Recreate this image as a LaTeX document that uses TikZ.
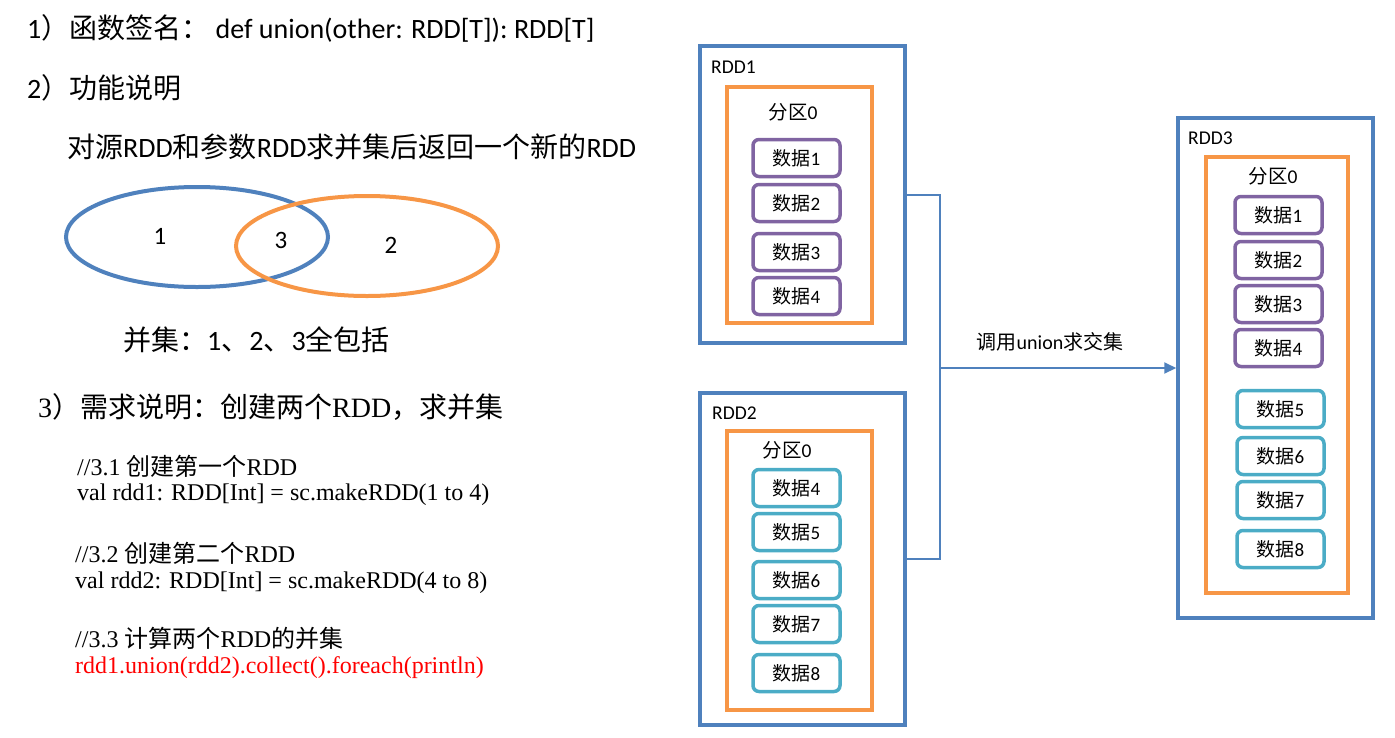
\documentclass[tikz,border=0pt]{standalone}
\usepackage{fontspec}
\setmainfont{Carlito}
\newfontfamily\cjk{Noto Sans CJK SC}
\newfontfamily\tms{Liberation Serif}
\newcommand{\zh}[1]{{\cjk #1}}
\usetikzlibrary{arrows.meta, positioning}
\definecolor{rddblue}{HTML}{4F81BD}
\definecolor{partorange}{HTML}{F79646}
\definecolor{datapurple}{HTML}{8064A2}
\definecolor{datateal}{HTML}{4BACC6}

\begin{document}
\begin{tikzpicture}[x=1pt, y=-1pt,
    rddbox/.style={rectangle, draw=rddblue, line width=3.5pt, inner sep=0pt},
    partbox/.style={rectangle, draw=partorange, line width=3.5pt, inner sep=0pt},
    datum/.style={rectangle, rounded corners=6pt, line width=3.5pt, minimum width=87pt, minimum height=37pt, inner sep=0pt, font=\fontsize{19}{21}\selectfont},
    olddata/.style={datum, draw=datapurple},
    newdata/.style={datum, draw=datateal},
    txt/.style={anchor=west, inner sep=0pt, font=\fontsize{28}{32}\selectfont},
    code/.style={anchor=west, inner sep=0pt, font=\tms\fontsize{24}{28}\selectfont},
    lbl/.style={anchor=west, inner sep=0pt, font=\fontsize{19.5}{22}\selectfont},
    num/.style={inner sep=0pt, font=\fontsize{25}{28}\selectfont},
    conn/.style={draw=rddblue, line width=2pt},
    arrow/.style={conn, -{Triangle[length=12pt, width=11pt]}}
]
    \useasboundingbox (0,0) rectangle (1395,737);

    % Left text
    \node[txt] (sig) at (27,28) {1\zh{）函数签名：}\ def union(other: RDD[T]): RDD[T]};
    \node[txt] (func) at (27,88) {2\zh{）功能说明}};
    \node[txt] (desc) at (67,147) {\zh{对源}RDD\zh{和参数}RDD\zh{求并集后返回一个新的}RDD};

    % Venn
    \draw[rddblue, line width=4pt] (197,237) ellipse [x radius=131pt, y radius=50pt];
    \draw[partorange, line width=4pt] (367,246) ellipse [x radius=131pt, y radius=50pt];
    \node[num] (n1) at (160,236) {1};
    \node[num] (n3) at (281,240) {3};
    \node[num] (n2) at (391,245) {2};
    \node[txt] (all) at (123,340) {\zh{并集：}1\zh{、}2\zh{、}3\zh{全包括}};

    % Requirement and code
    \node[txt, font=\tms\fontsize{28}{32}\selectfont] (req) at (38,407) {3\zh{）需求说明：创建两个}RDD\zh{，求并集}};
    \node[code] (c1) at (77,466) {//3.1 \zh{创建第一个}RDD};
    \node[code] (c2) at (77,495) {val rdd1: RDD[Int] = sc.makeRDD(1 to 4)};
    \node[code] (c3) at (75,553) {//3.2 \zh{创建第二个}RDD};
    \node[code] (c4) at (75,583) {val rdd2: RDD[Int] = sc.makeRDD(4 to 8)};
    \node[code] (c5) at (75,638) {//3.3 \zh{计算两个}RDD\zh{的并集}};
    \node[code, text=red] (c6) at (75,668) {rdd1.union(rdd2).collect().foreach(println)};

    % RDD1
    \node[rddbox, minimum width=205pt, minimum height=297pt] (r1) at (802.5,194.5) {};
    \node[lbl] at (711,67) {RDD1};
    \node[partbox, minimum width=145pt, minimum height=236pt] (p1) at (799.5,205) {};
    \node[lbl, anchor=center] at (793,112) {\zh{分区}0};
    \foreach \i/\y in {1/158, 2/203, 3/252, 4/296}
        \node[olddata] (a\i) at (796.5,\y) {\zh{数据}\i};

    % RDD2
    \node[rddbox, minimum width=205pt, minimum height=332pt] (r2) at (802.5,559) {};
    \node[lbl] at (712,413) {RDD2};
    \node[partbox, minimum width=145pt, minimum height=279pt] (p2) at (799.5,570.5) {};
    \node[lbl, anchor=center] at (787,450) {\zh{分区}0};
    \foreach \i/\y in {4/488, 5/532, 6/580, 7/624, 8/673}
        \node[newdata] (b\i) at (796.5,\y) {\zh{数据}\i};

    % RDD3
    \node[rddbox, minimum width=195pt, minimum height=500pt] (r3) at (1275.5,368) {};
    \node[lbl] at (1188,138) {RDD3};
    \node[partbox, minimum width=142pt, minimum height=436pt] (p3) at (1277,375) {};
    \node[lbl, anchor=center] at (1273,176) {\zh{分区}0};
    \foreach \i/\y in {1/215, 2/260, 3/304, 4/348}
        \node[olddata] (c\i) at (1278.5,\y) {\zh{数据}\i};
    \foreach \i/\y in {5/409, 6/456, 7/500, 8/549}
        \node[newdata] (c\i) at (1280.5,\y) {\zh{数据}\i};

    % Union
    \coordinate (join) at (940,368);
    \draw[conn] (r1.east) -| (join) |- (r2.east);
    \draw[arrow] (join) -- (r3.west);
    \node[lbl, anchor=center, font=\fontsize{20}{22}\selectfont] (op) at (1050,342) {\zh{调用}union\zh{求交集}};
\end{tikzpicture}
\end{document}
